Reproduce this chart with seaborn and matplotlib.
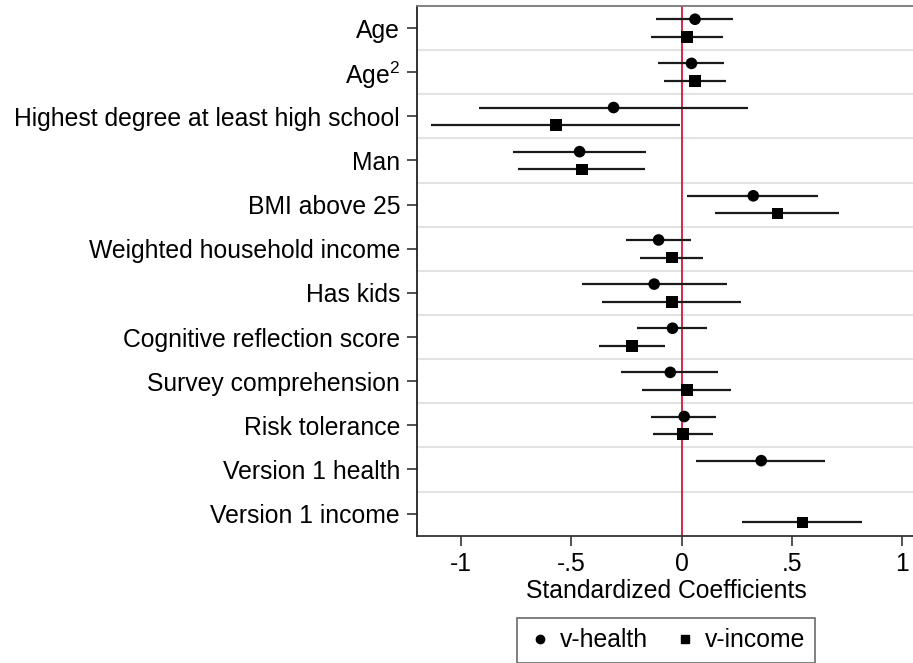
import numpy as np
import pandas as pd
import matplotlib
matplotlib.use("Agg")
import matplotlib.pyplot as plt
import seaborn as sns

sns.set_theme(style="white")
plt.rcParams["font.family"] = ["Liberation Sans", "DejaVu Sans"]
plt.rcParams["mathtext.fontset"] = "custom"
plt.rcParams["mathtext.rm"] = "Liberation Sans"
plt.rcParams["mathtext.default"] = "regular"
plt.rcParams["text.color"] = "black"
plt.rcParams["axes.labelcolor"] = "black"
plt.rcParams["xtick.labelcolor"] = "black"
plt.rcParams["ytick.labelcolor"] = "black"

# -----------------------------
# Data
# -----------------------------
variables = [
    "Age", "Age$^{2}$", "Highest degree at least high school", "Man",
    "BMI above 25", "Weighted household income", "Has kids",
    "Cognitive reflection score", "Survey comprehension", "Risk tolerance",
    "Version 1 health", "Version 1 income",
]

health_vars = variables[:11]
health_coef = [0.061, 0.045, -0.308, -0.462, 0.325, -0.104, -0.124, -0.041, -0.051, 0.012, 0.361]
health_lo = [-0.116, -0.107, -0.917, -0.763, 0.026, -0.252, -0.453, -0.201, -0.273, -0.139, 0.067]
health_hi = [0.234, 0.193, 0.299, -0.159, 0.619, 0.044, 0.204, 0.116, 0.166, 0.157, 0.650]

income_vars = variables[:10] + ["Version 1 income"]
income_coef = [0.026, 0.062, -0.569, -0.451, 0.434, -0.044, -0.044, -0.225, 0.026, 0.006, 0.548]
income_lo = [-0.139, -0.080, -1.133, -0.740, 0.153, -0.189, -0.361, -0.376, -0.178, -0.131, 0.274]
income_hi = [0.190, 0.203, -0.006, -0.164, 0.715, 0.097, 0.269, -0.077, 0.224, 0.144, 0.819]

x_ticks = [-1, -0.5, 0, 0.5, 1]
x_ticklabels = ["-1", "-.5", "0", ".5", "1"]

# -----------------------------
# Long table
# -----------------------------
df = pd.concat([
    pd.DataFrame({"var": health_vars, "coef": health_coef, "lo": health_lo,
                  "hi": health_hi, "model": "v-health"}),
    pd.DataFrame({"var": income_vars, "coef": income_coef, "lo": income_lo,
                  "hi": income_hi, "model": "v-income"}),
], ignore_index=True)

offsets = {"v-health": -0.2, "v-income": 0.2}
df["y"] = df["var"].map({v: i for i, v in enumerate(variables)}) + df["model"].map(offsets)

# -----------------------------
# Plot
# -----------------------------
fs = 17.8
fig = plt.figure(figsize=(9.13, 6.63), dpi=100)
ax = fig.add_axes([416.7 / 913, 1 - 535.7 / 663, (915.5 - 416.7) / 913, (535.7 - 6) / 663])

n = len(variables)
ax.set_yticks(np.arange(n - 1) + 0.5, minor=True)
ax.grid(axis="y", which="minor", color="#e3e3e3", linewidth=1.5)
ax.grid(axis="y", which="major", visible=False)
ax.grid(axis="x", visible=False)

ax.axvline(0, color="#d4163c", linewidth=1.3, zorder=1.5)

ax.hlines(df["y"], df["lo"], df["hi"], color="#1a1a1a", linewidth=1.6, zorder=2)

sns.scatterplot(
    data=df, x="coef", y="y", style="model",
    markers={"v-health": "o", "v-income": "s"},
    s=70, color="black", edgecolor="none", linewidth=0,
    zorder=3, ax=ax, legend=False,
)

ax.set_ylim(n - 0.5, -0.5)
ax.set_xlim(-1.2, 1.06)
ax.set_yticks(np.arange(n))
ax.set_yticklabels(variables, fontsize=fs)
ax.set_xticks(x_ticks)
ax.set_xticklabels(x_ticklabels, fontsize=fs)
ax.set_ylabel("")
ax.set_xlabel("Standardized Coefficients", fontsize=fs, labelpad=2)

ax.tick_params(axis="both", which="major", direction="out", length=7,
               width=1.2, color="#333333", pad=5, bottom=True, left=True)
ax.tick_params(axis="y", which="minor", length=0)

ax.spines["left"].set_color("#222222")
ax.spines["left"].set_linewidth(1.3)
ax.spines["bottom"].set_color("#333333")
ax.spines["bottom"].set_linewidth(1.3)
ax.spines["top"].set_color("#777777")
ax.spines["top"].set_linewidth(1.3)
ax.spines["right"].set_visible(False)

handles = [
    plt.Line2D([], [], marker="o", linestyle="", color="black", markersize=6),
    plt.Line2D([], [], marker="s", linestyle="", color="black", markersize=6),
]
leg = ax.legend(
    handles, ["v-health", "v-income"], loc="upper center",
    bbox_to_anchor=(0.5, -0.155), ncol=2, fontsize=fs, frameon=True,
    fancybox=False, handletextpad=0.3, columnspacing=1.0, borderpad=0.42,
    handlelength=1.0, borderaxespad=0,
)
leg.get_frame().set_edgecolor("#444444")
leg.get_frame().set_linewidth(1.2)

fig.savefig("out.png", dpi=100)
